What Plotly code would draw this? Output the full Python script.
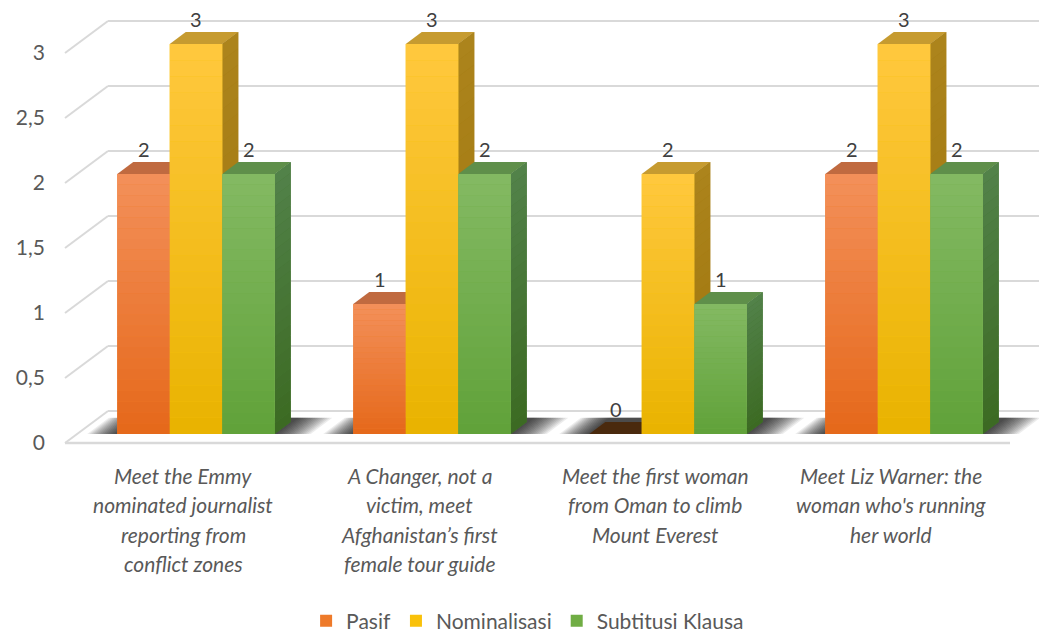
import plotly.graph_objects as go

# ---------------- data ----------------
categories = [
    "Meet the Emmy\nnominated journalist\nreporting from\nconflict zones",
    "A Changer, not a\nvictim, meet\nAfghanistan’s first\nfemale tour guide",
    "Meet the first woman\nfrom Oman to climb\nMount Everest",
    "Meet Liz Warner: the\nwoman who's running\nher world",
]
series_names = ["Pasif", "Nominalisasi", "Subtitusi Klausa"]
pasif = [2, 1, 0, 2]
nominalisasi = [3, 3, 2, 3]
subtitusi_klausa = [2, 2, 1, 2]
y_ticks = [0, 0.5, 1, 1.5, 2, 2.5, 3]
y_tick_labels = ["0", "0,5", "1", "1,5", "2", "2,5", "3"]

series_values = [pasif, nominalisasi, subtitusi_klausa]

# ---------------- styling ----------------
front_colors = ["#EE7A2A", "#F9C10A", "#70AD44"]
front_top_colors = ["#F3905A", "#FFC83E", "#84BA63"]
front_bottom_colors = ["#E5681A", "#E9B300", "#60A139"]
top_colors = ["#C06A40", "#C69B30", "#5F8F4A"]
side_top_colors = ["#B0561A", "#AC841C", "#52824A"]
side_bottom_colors = ["#A04C12", "#9E740C", "#3C6A22"]
zero_top_color = "#4A2A0E"
grid_color = "#D9D9D9"
text_color = "#595959"
font_family = "Lato, 'Open Sans', sans-serif"

W, H = 1039, 632
M_L, M_R, M_T, M_B = 46, 0, 10, 177
PX_X = 236.0          # pixels per category
PX_Y = 130.0          # pixels per value unit
X0_PX = 196.0         # pixel position of first category centre
Y0_PX = 434.0         # pixel position of value 0 (bar fronts)
plot_bottom = H - M_B
plot_h = plot_bottom - M_T

x_range = [(M_L - X0_PX) / PX_X, (W - M_R - X0_PX) / PX_X]
y_range = [(Y0_PX - plot_bottom) / PX_Y, (Y0_PX - M_T) / PX_Y]

BW = 52.5 / PX_X      # bar width in category units
DX = 16 / PX_X        # depth offset (x)
DY = 12 / PX_Y        # depth offset (y)
FY = -9 / PX_Y        # front floor line relative to bar front
BY = 23 / PX_Y        # back wall relative to bar front
FX0 = (65 - X0_PX) / PX_X
BX0 = (108 - X0_PX) / PX_X
FX1 = (1010 - X0_PX) / PX_X
BX1 = x_range[1]
N_BANDS = 24

x_idx = list(range(len(categories)))


def hex2rgb(h):
    h = h.lstrip("#")
    return tuple(int(h[i:i + 2], 16) for i in (0, 2, 4))


def mix(c_bottom, c_top, t):
    a, b = hex2rgb(c_bottom), hex2rgb(c_top)
    return "rgb({},{},{})".format(*[round(a[i] + (b[i] - a[i]) * t) for i in range(3)])


def poly(pts):
    return "M " + " L ".join(f"{px},{py}" for px, py in pts) + " Z"


fig = go.Figure()

for k, (name, vals) in enumerate(zip(series_names, series_values)):
    fig.add_trace(go.Bar(
        x=x_idx, y=vals, name=name,
        marker=dict(color=front_colors[k], line=dict(width=0)),
        hoverinfo="skip",
    ))

shapes = []
# back wall grid lines and left diagonals
for v in y_ticks:
    shapes.append(dict(type="line", xref="x", yref="y", layer="below",
                       x0=BX0, y0=v + BY, x1=BX1, y1=v + BY,
                       line=dict(color=grid_color, width=2)))
    shapes.append(dict(type="line", xref="x", yref="y", layer="below",
                       x0=FX0, y0=v + FY, x1=BX0, y1=v + BY,
                       line=dict(color=grid_color, width=2)))
shapes.append(dict(type="line", xref="x", yref="y", layer="below",
                   x0=FX0, y0=FY, x1=FX1, y1=FY,
                   line=dict(color=grid_color, width=2.5)))

# soft floor shadows behind each group of bars
SDX, SDY = DX * 1.35, DY * 1.35
for i in x_idx:
    gl = i - 1.5 * BW
    gr = i + 1.5 * BW
    for s in range(1, 16):
        a = 2 * s / PX_X
        b = 2.4 * s / PX_X
        shapes.append(dict(type="path", xref="x", yref="y", layer="below",
                           path=poly([(gl - a, 0), (gr + b, 0), (gr + b + SDX, SDY),
                                      (gl - a + SDX, SDY)]),
                           fillcolor="rgba(0,0,0,0.075)", line=dict(width=0)))

# 3D tops and (shaded) sides, drawn behind the bar fronts
for i in x_idx:
    for k, vals in enumerate(series_values):
        v = vals[i]
        xl = i + (k - 1.5) * BW
        xr = xl + BW
        tc = zero_top_color if v == 0 else top_colors[k]
        shapes.append(dict(type="path", xref="x", yref="y", layer="below",
                           path=poly([(xl, v), (xr, v), (xr + DX, v + DY), (xl + DX, v + DY)]),
                           fillcolor=tc, line=dict(width=0)))
        if v > 0:
            shapes.append(dict(type="path", xref="x", yref="y", layer="below",
                               path=poly([(xr, 0), (xr, v), (xr + DX, v + DY), (xr + DX, DY)]),
                               fillcolor=mix(side_bottom_colors[k], side_top_colors[k], 0.5),
                               line=dict(width=0)))
            for j in range(N_BANDS):
                lo, hi = v * j / N_BANDS, v * (j + 1) / N_BANDS
                t = (j + 0.5) / N_BANDS
                shapes.append(dict(type="path", xref="x", yref="y", layer="below",
                                   path=poly([(xr, lo), (xr, hi), (xr + DX, hi + DY),
                                              (xr + DX, lo + DY)]),
                                   fillcolor=mix(side_bottom_colors[k], side_top_colors[k], t),
                                   line=dict(width=0)))

# vertical shading of the bar fronts
for i in x_idx:
    for k, vals in enumerate(series_values):
        v = vals[i]
        if v <= 0:
            continue
        xl = i + (k - 1.5) * BW
        xr = xl + BW
        for j in range(N_BANDS):
            lo, hi = v * j / N_BANDS, v * (j + 1) / N_BANDS
            t = (j + 0.5) / N_BANDS
            shapes.append(dict(type="rect", xref="x", yref="y", layer="above",
                               x0=xl, x1=xr, y0=lo, y1=hi,
                               fillcolor=mix(front_bottom_colors[k], front_top_colors[k], t),
                               line=dict(width=0)))

annotations = []
# value labels
for i in x_idx:
    for k, vals in enumerate(series_values):
        v = vals[i]
        annotations.append(dict(x=i + (k - 1) * BW, y=v, xref="x", yref="y",
                                text=str(v), showarrow=False, yshift=25,
                                font=dict(family=font_family, size=20, color="#404040")))
# category labels (below the plot area, in paper coordinates vertically)
for i, cat in enumerate(categories):
    for j, line in enumerate(cat.split("\n")):
        py = 475 + 29.5 * j
        annotations.append(dict(x=i, y=(plot_bottom - py) / plot_h, xref="x", yref="paper",
                                text=line, showarrow=False, xshift=-13, yanchor="middle",
                                font=dict(family=font_family, size=21, color=text_color,
                                          style="italic")))

fig.update_layout(
    width=W, height=H,
    margin=dict(l=M_L, r=M_R, t=M_T, b=M_B, autoexpand=False),
    paper_bgcolor="white", plot_bgcolor="white",
    barmode="group", bargap=1 - 3 * BW, bargroupgap=0,
    shapes=shapes, annotations=annotations,
    xaxis=dict(range=x_range, showgrid=False, zeroline=False, showline=False,
               showticklabels=False, ticks="", fixedrange=True, automargin=False),
    yaxis=dict(range=y_range, showgrid=False, zeroline=False, showline=False,
               tickvals=[v + FY for v in y_ticks], ticktext=y_tick_labels,
               tickfont=dict(family=font_family, size=21, color=text_color),
               ticks="", fixedrange=True, automargin=False),
    legend=dict(orientation="h", x=0.485, xanchor="center",
                y=(plot_bottom - 621) / plot_h, yanchor="middle",
                font=dict(family=font_family, size=21, color=text_color),
                itemwidth=30, bgcolor="rgba(0,0,0,0)"),
    showlegend=True,
)

fig.write_html(
    "out.html",
    config={"displayModeBar": False},
    post_script="document.body.style.margin='0';document.body.style.overflow='hidden';",
)
